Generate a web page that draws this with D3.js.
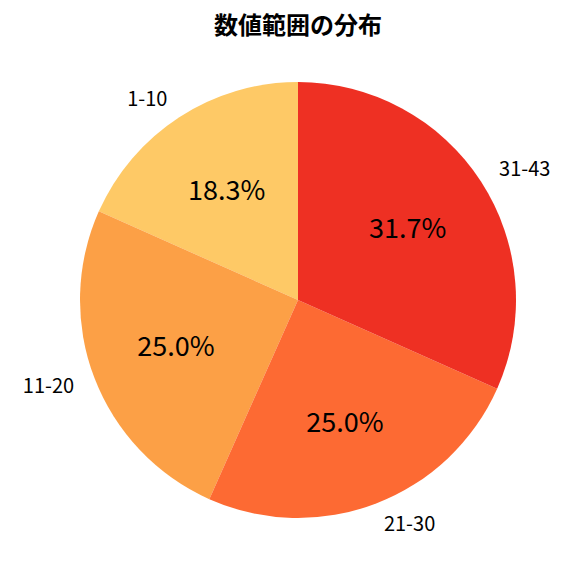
<!DOCTYPE html>
<html>
<head>
<meta charset="utf-8">
<script src="https://cdn.jsdelivr.net/npm/d3@7"></script>
<style>
  body { margin: 0; background: #fff; }
  text { font-family: "Noto Sans CJK JP", "Noto Sans", sans-serif; }
</style>
</head>
<body>
<svg id="chart" width="576" height="576"></svg>
<script>
// data, in matplotlib order (counterclockwise from 12 o'clock)
const categories = ["1-10", "11-20", "21-30", "31-43"];
const counts = [11, 15, 15, 19];
const colors = ["#fec966", "#fca046", "#fd6a33", "#ee3023"];

const svg = d3.select("#chart");
const cx = 298, cy = 300, r = 218;

svg.append("text")
  .attr("x", 298)
  .attr("y", 34)
  .attr("text-anchor", "middle")
  .style("font-size", "24px")
  .style("font-weight", "bold")
  .text("数値範囲の分布");

const total = d3.sum(counts);
// counterclockwise from top: use negative angles
const pie = d3.pie().sort(null).value(d => d)
  .startAngle(0).endAngle(-2 * Math.PI);
const arcs = pie(counts);
const arc = d3.arc().innerRadius(0).outerRadius(r);

const g = svg.append("g").attr("transform", `translate(${cx},${cy})`);

g.selectAll("path")
  .data(arcs)
  .enter().append("path")
    .attr("d", arc)
    .attr("fill", (d, i) => colors[i]);

function mid(d) { return (d.startAngle + d.endAngle) / 2; }

// category labels at 1.1 r
g.selectAll(".lab")
  .data(arcs)
  .enter().append("text")
    .attr("class", "lab")
    .attr("x", d => Math.sin(mid(d)) * r * 1.1)
    .attr("y", d => -Math.cos(mid(d)) * r * 1.1)
    .attr("dy", "0.35em")
    .attr("text-anchor", d => Math.sin(mid(d)) < 0 ? "end" : "start")
    .style("font-size", "20px")
    .text((d, i) => categories[i]);

// percentages at 0.6 r
g.selectAll(".pct")
  .data(arcs)
  .enter().append("text")
    .attr("class", "pct")
    .attr("x", d => Math.sin(mid(d)) * r * 0.6)
    .attr("y", d => -Math.cos(mid(d)) * r * 0.6)
    .attr("dy", "0.35em")
    .attr("text-anchor", "middle")
    .style("font-size", "27px")
    .text(d => (d.value / total * 100).toFixed(1) + "%");
</script>
</body>
</html>
